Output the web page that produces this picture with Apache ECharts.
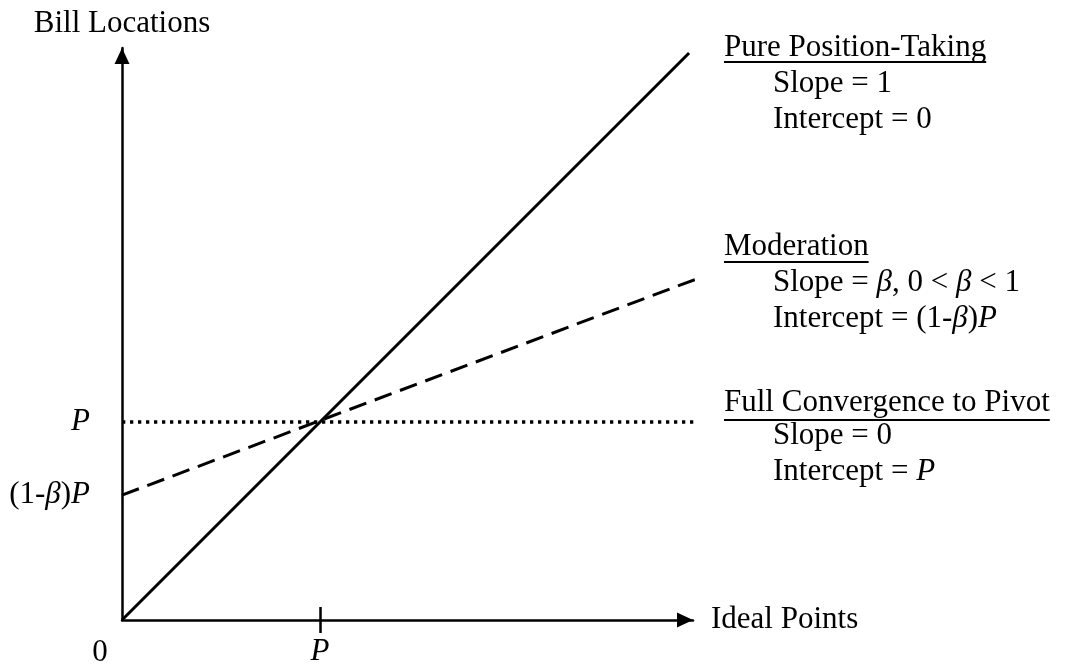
<!DOCTYPE html>
<html>
<head>
<meta charset="utf-8">
<script src="https://cdn.jsdelivr.net/npm/echarts@6/dist/echarts.min.js"></script>
<style>
html,body{margin:0;padding:0;background:#fff;}
#chart{width:1068px;height:670px;}
</style>
</head>
<body>
<div id="chart"></div>
<script>
// ---- data (units: P = 1) ----
const xRange = [0, 2.884];
const yRange = [0, 2.889];
const pureLine = [[0, 0], [2.864, 2.864]];          // slope 1, intercept 0
const moderationLine = [[0, 0.631], [2.983, 1.753]]; // slope beta, intercept (1-beta)P
const pivotLine = [[0, 1], [2.894, 1]];              // slope 0, intercept P
const xTickValues = [1];
const xTickLabels = ['{i|P}'];
const yTickValues = [0.631, 1];
const yTickLabels = ['{n|(1-}{i|β}{n|)}{i|P}', '{i|P}'];
const xAxisName = 'Ideal Points';
const yAxisName = 'Bill Locations';
const originLabel = '0';
const notes = [
  { head: 'Pure Position-Taking', lines: ['{n|Slope = 1}', '{n|Intercept = 0}'] },
  { head: 'Moderation', lines: ['{n|Slope = }{i|β}{n|, 0 < }{i|β}{n| < 1}', '{n|Intercept = (1-}{i|β}{n|)}{i|P}'] },
  { head: 'Full Convergence to Pivot', lines: ['{n|Slope = 0}', '{n|Intercept = }{i|P}'] }
];

// ---- styling / layout ----
const FF = 'Liberation Serif';
const FS = 31;
const rich = {
  n: { fontFamily: FF, fontSize: FS, fontStyle: 'normal', color: '#000' },
  i: { fontFamily: FF, fontSize: FS, fontStyle: 'italic', color: '#000' }
};
const noteHeadBase = [58, 257, 413];
const noteUnderline = [62, 262, 420];
const noteLineBase = [[94, 130], [293, 329], [446, 482]];
const headX = 724, bodyX = 773, midOff = 10;

const cv = document.createElement('canvas').getContext('2d');
cv.font = FS + 'px "' + FF + '"';

const graphics = [];
notes.forEach((nt, k) => {
  graphics.push({ type: 'text', x: headX, y: noteHeadBase[k] - midOff,
    style: { text: nt.head, font: FS + 'px "' + FF + '"', fill: '#000', textAlign: 'left', textVerticalAlign: 'middle' } });
  const w = cv.measureText(nt.head).width;
  graphics.push({ type: 'line', shape: { x1: headX, y1: noteUnderline[k], x2: headX + w, y2: noteUnderline[k] },
    style: { stroke: '#000', lineWidth: 2 } });
  nt.lines.forEach((ln, j) => {
    graphics.push({ type: 'text', x: bodyX, y: noteLineBase[k][j] - midOff,
      style: { text: ln, rich: rich, font: FS + 'px "' + FF + '"', fill: '#000', textAlign: 'left', textVerticalAlign: 'middle' } });
  });
});
graphics.push({ type: 'text', x: 100, y: 653,
  style: { text: originLabel, font: FS + 'px "' + FF + '"', fill: '#000', textAlign: 'center', textVerticalAlign: 'middle' } });

const chart = echarts.init(document.getElementById('chart'), null, { renderer: 'canvas' });
const axisLineStyle = { color: '#000', width: 2.5 };
chart.setOption({
  animation: false,
  backgroundColor: '#fff',
  grid: { left: 122, right: 375, top: 48, bottom: 50, containLabel: false },
  xAxis: [{
    type: 'value', min: xRange[0], max: xRange[1],
    name: xAxisName, nameLocation: 'end', nameGap: 18,
    nameTextStyle: { fontFamily: FF, fontSize: FS, color: '#000', verticalAlign: 'middle' },
    axisLine: { show: true, lineStyle: axisLineStyle, symbol: ['none', 'triangle'], symbolSize: [15, 16], symbolOffset: [0, -8] },
    axisTick: { show: true, customValues: xTickValues, length: 13, lineStyle: { color: '#000', width: 2.5 } },
    axisLabel: { show: true, customValues: xTickValues, margin: 16,
      formatter: (v) => xTickLabels[xTickValues.indexOf(v)] || '', rich: rich },
    splitLine: { show: false }
  }, {
    type: 'value', min: xRange[0], max: xRange[1], position: 'bottom',
    axisLine: { show: false },
    axisTick: { show: true, inside: true, customValues: xTickValues, length: 13, lineStyle: { color: '#000', width: 2.5 } },
    axisLabel: { show: false },
    splitLine: { show: false }
  }],
  yAxis: {
    type: 'value', min: yRange[0], max: yRange[1],
    name: yAxisName, nameLocation: 'end', nameGap: 9,
    nameTextStyle: { fontFamily: FF, fontSize: FS, color: '#000', align: 'center' },
    axisLine: { show: true, lineStyle: axisLineStyle, symbol: ['none', 'triangle'], symbolSize: [15, 16], symbolOffset: [0, -8] },
    axisTick: { show: false },
    axisLabel: { show: true, customValues: yTickValues, margin: 32,
      formatter: (v) => yTickLabels[yTickValues.indexOf(v)] || '', rich: rich },
    splitLine: { show: false }
  },
  series: [
    { name: 'Pure Position-Taking', type: 'line', data: pureLine, showSymbol: false, clip: false,
      lineStyle: { color: '#000', width: 3, type: 'solid' } },
    { name: 'Moderation', type: 'line', data: moderationLine, showSymbol: false, clip: false,
      lineStyle: { color: '#000', width: 3, type: [18, 9] } },
    { name: 'Full Convergence to Pivot', type: 'line', data: pivotLine, showSymbol: false, clip: false,
      lineStyle: { color: '#000', width: 3.3, type: [3.3, 4.7] } }
  ],
  graphic: graphics
});
</script>
</body>
</html>
